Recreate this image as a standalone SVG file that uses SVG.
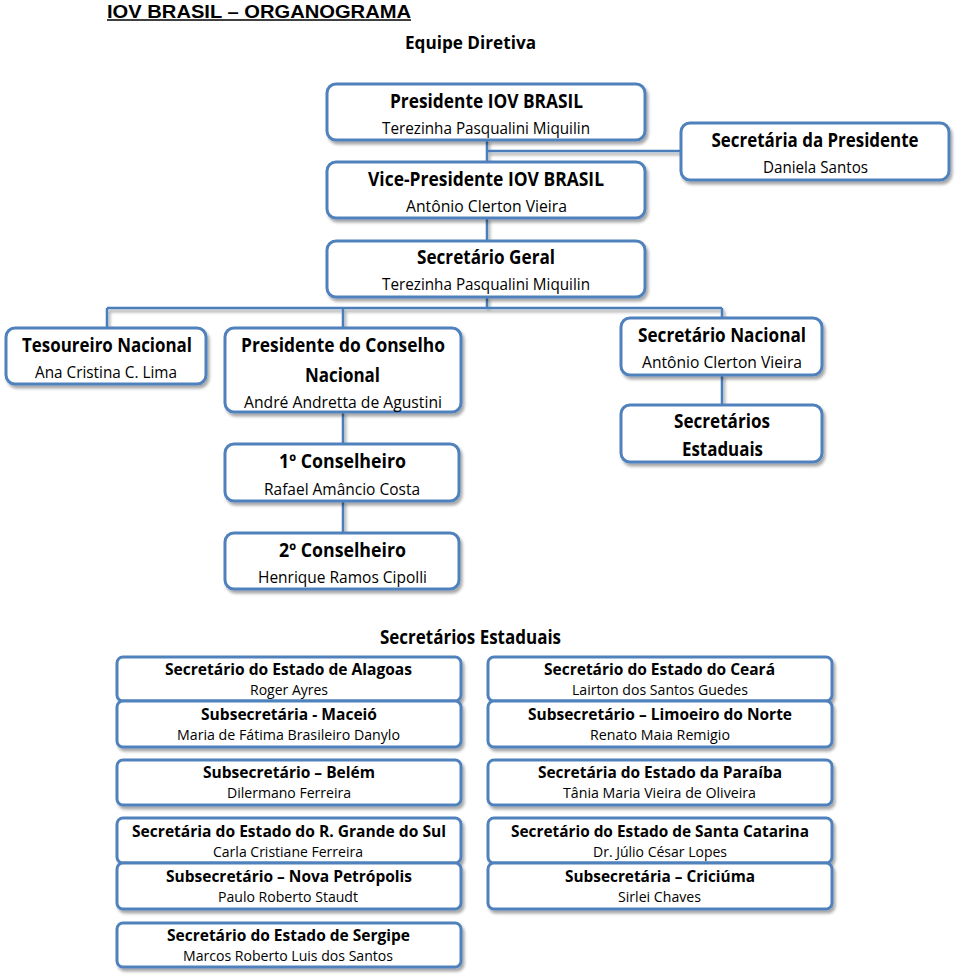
<svg xmlns="http://www.w3.org/2000/svg" width="960" height="976" viewBox="0 0 960 976">
<defs>
<filter id="sh" x="-10%" y="-20%" width="130%" height="150%">
<feDropShadow dx="2" dy="3" stdDeviation="1.5" flood-color="#000" flood-opacity="0.35"/>
</filter>
</defs>
<style>
.box{fill:#fff;stroke:#4f81bd;stroke-width:3;filter:url(#sh)}
.ln{fill:none;stroke:#4a7ebb;stroke-width:2.5;filter:url(#sh)}
text{font-family:"Open Sans","Liberation Sans",sans-serif;fill:#000;text-anchor:middle}
.h{font-weight:bold;font-size:19px}
.n{font-size:17px}
.bh{font-weight:bold;font-size:16px}
.bn{font-size:14.5px}
</style>
<rect width="960" height="976" fill="#fff"/>
<text x="259" y="17.5" style="font-family:'Liberation Sans',sans-serif;font-weight:bold;font-size:18px" textLength="304" lengthAdjust="spacingAndGlyphs">IOV BRASIL – ORGANOGRAMA</text>
<line x1="107" y1="20" x2="411" y2="20" stroke="#000" stroke-width="1.6"/>
<text x="470.5" y="49" style="font-weight:bold;font-size:17.5px" textLength="131" lengthAdjust="spacingAndGlyphs">Equipe Diretiva</text>
<text x="470.5" y="644" style="font-weight:bold;font-size:19px" textLength="181" lengthAdjust="spacingAndGlyphs">Secretários Estaduais</text>

<g id="connectors">
<path class="ln" d="M487 140 V162 M487 151 H681 M487 218 V241 M487 297 V308 M107 308 H722 M107 308 V328 M343 308 V328 M722 308 V318 M722 375 V405 M343 412 V444 M343 501 V533"/>
</g>

<g id="presidente">
<rect class="box" x="327" y="84" width="318" height="56" rx="9"/>
<text class="h" x="486.5" y="108" textLength="193" lengthAdjust="spacingAndGlyphs">Presidente IOV BRASIL</text>
<text class="n" x="486" y="134" textLength="208" lengthAdjust="spacingAndGlyphs">Terezinha Pasqualini Miquilin</text>
</g>
<g id="vice">
<rect class="box" x="327" y="162" width="318" height="56" rx="9"/>
<text class="h" x="486" y="186" textLength="236" lengthAdjust="spacingAndGlyphs">Vice-Presidente IOV BRASIL</text>
<text class="n" x="486.5" y="212" textLength="161" lengthAdjust="spacingAndGlyphs">Antônio Clerton Vieira</text>
</g>
<g id="secretaria-presidente">
<rect class="box" x="681" y="123" width="268" height="57" rx="9"/>
<text class="h" x="815" y="147" textLength="207" lengthAdjust="spacingAndGlyphs">Secretária da Presidente</text>
<text class="n" x="815.5" y="173" textLength="105" lengthAdjust="spacingAndGlyphs">Daniela Santos</text>
</g>
<g id="secretario-geral">
<rect class="box" x="327" y="241" width="318" height="56" rx="9"/>
<text class="h" x="486" y="264" textLength="138" lengthAdjust="spacingAndGlyphs">Secretário Geral</text>
<text class="n" x="486" y="290" textLength="208" lengthAdjust="spacingAndGlyphs">Terezinha Pasqualini Miquilin</text>
</g>
<g id="tesoureiro">
<rect class="box" x="6" y="328" width="200" height="56" rx="9"/>
<text class="h" x="107" y="352" textLength="170" lengthAdjust="spacingAndGlyphs">Tesoureiro Nacional</text>
<text class="n" x="106" y="378" textLength="142" lengthAdjust="spacingAndGlyphs">Ana Cristina C. Lima</text>
</g>
<g id="presidente-conselho">
<rect class="box" x="225" y="328" width="236" height="84" rx="9"/>
<text class="h" x="343" y="352" textLength="204" lengthAdjust="spacingAndGlyphs">Presidente do Conselho</text>
<text class="h" x="342.5" y="382" textLength="75" lengthAdjust="spacingAndGlyphs">Nacional</text>
<text class="n" x="343" y="408" textLength="198" lengthAdjust="spacingAndGlyphs">André Andretta de Agustini</text>
</g>
<g id="secretario-nacional">
<rect class="box" x="621" y="318" width="201" height="57" rx="9"/>
<text class="h" x="722" y="342" textLength="168" lengthAdjust="spacingAndGlyphs">Secretário Nacional</text>
<text class="n" x="722" y="368" textLength="160" lengthAdjust="spacingAndGlyphs">Antônio Clerton Vieira</text>
</g>
<g id="secretarios-estaduais">
<rect class="box" x="621" y="405" width="201" height="57" rx="9"/>
<text class="h" x="722" y="428" textLength="96" lengthAdjust="spacingAndGlyphs">Secretários</text>
<text class="h" x="722.5" y="456" textLength="81" lengthAdjust="spacingAndGlyphs">Estaduais</text>
</g>
<g id="conselheiro1">
<rect class="box" x="225" y="444" width="234" height="57" rx="9"/>
<text class="h" x="342.5" y="468" textLength="127" lengthAdjust="spacingAndGlyphs">1º Conselheiro</text>
<text class="n" x="342" y="495" textLength="156" lengthAdjust="spacingAndGlyphs">Rafael Amâncio Costa</text>
</g>
<g id="conselheiro2">
<rect class="box" x="225" y="533" width="234" height="56" rx="9"/>
<text class="h" x="342.5" y="557" textLength="127" lengthAdjust="spacingAndGlyphs">2º Conselheiro</text>
<text class="n" x="342.5" y="583" textLength="169" lengthAdjust="spacingAndGlyphs">Henrique Ramos Cipolli</text>
</g>

<g id="alagoas">
<rect class="box" x="117" y="657" width="344" height="44" rx="6"/>
<text class="bh" x="288.5" y="675" textLength="247" lengthAdjust="spacingAndGlyphs">Secretário do Estado de Alagoas</text>
<text class="bn" x="289" y="695" textLength="78" lengthAdjust="spacingAndGlyphs">Roger Ayres</text>
</g>
<g id="maceio">
<rect class="box" x="117" y="701" width="344" height="46" rx="6"/>
<text class="bh" x="289" y="720" textLength="176" lengthAdjust="spacingAndGlyphs">Subsecretária - Maceió</text>
<text class="bn" x="288.5" y="740" textLength="223" lengthAdjust="spacingAndGlyphs">Maria de Fátima Brasileiro Danylo</text>
</g>
<g id="belem">
<rect class="box" x="117" y="760" width="344" height="45" rx="6"/>
<text class="bh" x="289" y="778" textLength="172" lengthAdjust="spacingAndGlyphs">Subsecretário – Belém</text>
<text class="bn" x="289" y="798" textLength="124" lengthAdjust="spacingAndGlyphs">Dilermano Ferreira</text>
</g>
<g id="rgs">
<rect class="box" x="117" y="818" width="344" height="45" rx="6"/>
<text class="bh" x="289" y="837" textLength="314" lengthAdjust="spacingAndGlyphs">Secretária do Estado do R. Grande do Sul</text>
<text class="bn" x="288" y="857" textLength="150" lengthAdjust="spacingAndGlyphs">Carla Cristiane Ferreira</text>
</g>
<g id="nova-petropolis">
<rect class="box" x="117" y="863" width="344" height="46" rx="6"/>
<text class="bh" x="289" y="882" textLength="246" lengthAdjust="spacingAndGlyphs">Subsecretário – Nova Petrópolis</text>
<text class="bn" x="288" y="902" textLength="140" lengthAdjust="spacingAndGlyphs">Paulo Roberto Staudt</text>
</g>
<g id="sergipe">
<rect class="box" x="117" y="923" width="344" height="44" rx="6"/>
<text class="bh" x="288.5" y="941" textLength="243" lengthAdjust="spacingAndGlyphs">Secretário do Estado de Sergipe</text>
<text class="bn" x="288" y="961" textLength="210" lengthAdjust="spacingAndGlyphs">Marcos Roberto Luis dos Santos</text>
</g>

<g id="ceara">
<rect class="box" x="488" y="657" width="344" height="44" rx="6"/>
<text class="bh" x="659.5" y="675" textLength="231" lengthAdjust="spacingAndGlyphs">Secretário do Estado do Ceará</text>
<text class="bn" x="660" y="695" textLength="176" lengthAdjust="spacingAndGlyphs">Lairton dos Santos Guedes</text>
</g>
<g id="limoeiro">
<rect class="box" x="488" y="701" width="344" height="46" rx="6"/>
<text class="bh" x="660" y="720" textLength="264" lengthAdjust="spacingAndGlyphs">Subsecretário – Limoeiro do Norte</text>
<text class="bn" x="660" y="740" textLength="140" lengthAdjust="spacingAndGlyphs">Renato Maia Remigio</text>
</g>
<g id="paraiba">
<rect class="box" x="488" y="760" width="344" height="45" rx="6"/>
<text class="bh" x="660" y="778" textLength="244" lengthAdjust="spacingAndGlyphs">Secretária do Estado da Paraíba</text>
<text class="bn" x="659.5" y="798" textLength="193" lengthAdjust="spacingAndGlyphs">Tânia Maria Vieira de Oliveira</text>
</g>
<g id="santa-catarina">
<rect class="box" x="488" y="818" width="344" height="45" rx="6"/>
<text class="bh" x="660" y="837" textLength="298" lengthAdjust="spacingAndGlyphs">Secretário do Estado de Santa Catarina</text>
<text class="bn" x="660" y="857" textLength="134" lengthAdjust="spacingAndGlyphs">Dr. Júlio César Lopes</text>
</g>
<g id="criciuma">
<rect class="box" x="488" y="863" width="344" height="46" rx="6"/>
<text class="bh" x="660" y="882" textLength="190" lengthAdjust="spacingAndGlyphs">Subsecretária – Criciúma</text>
<text class="bn" x="659.5" y="902" textLength="83" lengthAdjust="spacingAndGlyphs">Sirlei Chaves</text>
</g>
</svg>
